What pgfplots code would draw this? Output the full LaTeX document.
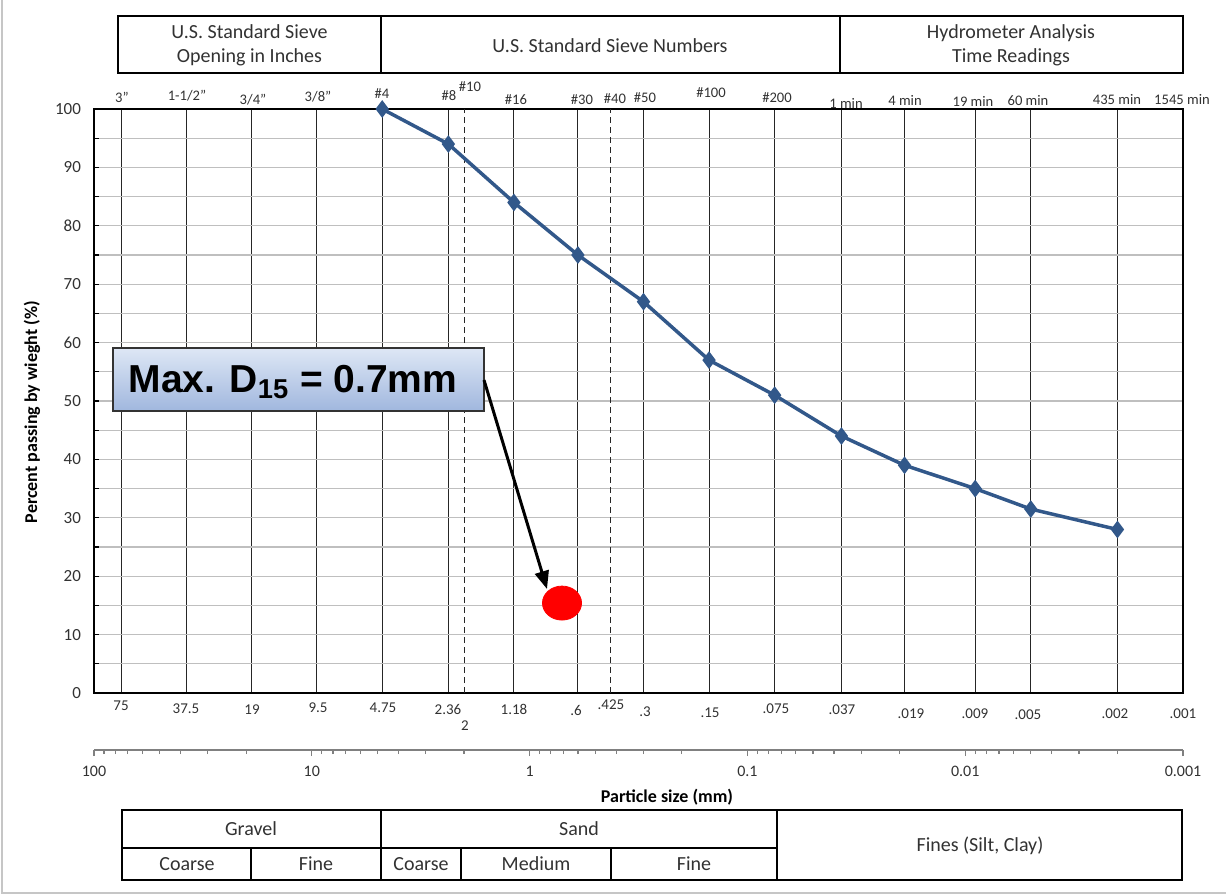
\documentclass[border=0pt]{standalone}
\usepackage{fontspec}
\setmainfont{Carlito}
\newfontfamily\arialfont{Liberation Sans}
\usepackage{pgfplots}
\pgfplotsset{compat=1.18}
\usetikzlibrary{arrows.meta}
\definecolor{series}{RGB}{50,88,138}
\definecolor{txt}{RGB}{50,50,50}
\definecolor{gridgray}{RGB}{191,191,191}
\definecolor{boxtop}{RGB}{222,231,245}
\definecolor{boxbot}{RGB}{160,183,222}
\newcommand{\qt}{\symbol{34}}

\begin{document}
\begin{tikzpicture}
\begin{scope}[x=0.5pt,y=-0.5pt]
\useasboundingbox (0,0) rectangle (1226,895);
\draw[gray!45, line width=1pt] (1.5,0) -- (1.5,893) -- (1226,893);
% top table
\draw[line width=0.8pt] (118,16) rectangle (381,73);
\draw[line width=0.8pt] (381,16) rectangle (840,73);
\draw[line width=0.8pt] (840,16) rectangle (1183,73);
\node[font=\fontsize{10}{12}\selectfont, align=center, text=txt] at (249.5,45) {U.S. Standard Sieve\\Opening in Inches};
\node[font=\fontsize{10}{12}\selectfont, text=txt] at (610,46) {U.S. Standard Sieve Numbers};
\node[font=\fontsize{10}{12}\selectfont, align=center, text=txt] at (1011,45) {Hydrometer Analysis\\Time Readings};
% top labels
\begin{scope}[every node/.style={font=\fontsize{7.3}{8}\selectfont, text=txt}]
\node at (122,97) {3\qt};
\node at (187,96) {1-1/2\qt};
\node at (253,100) {3/4\qt};
\node at (318,97) {3/8\qt};
\node at (382,94) {\#4};
\node at (449,96) {\#8};
\node at (470,87) {\#10};
\node at (516,100) {\#16};
\node at (582,100) {\#30};
\node at (615,99) {\#40};
\node at (645,98) {\#50};
\node at (711,93) {\#100};
\node at (777,98) {\#200};
\node at (846,103) {1 min};
\node at (905,100) {4 min};
\node at (973,101) {19 min};
\node at (1028,101) {60 min};
\node at (1117,100) {435 min};
\node at (1182,100) {1545 min};
\end{scope}
% bottom size labels
\begin{scope}[every node/.style={font=\fontsize{7.5}{8}\selectfont, text=txt}]
\node at (121,706) {75};
\node at (186,709) {37.5};
\node at (252,710) {19};
\node at (318,708) {9.5};
\node at (383,708) {4.75};
\node at (448,709) {2.36};
\node at (465,726) {2};
\node at (514,709) {1.18};
\node at (576,710) {.6};
\node at (611,705) {.425};
\node at (645,712) {.3};
\node at (710,713) {.15};
\node at (776,709) {.075};
\node at (842,710) {.037};
\node at (911,714) {.019};
\node at (975,714) {.009};
\node at (1028,715) {.005};
\node at (1115,714) {.002};
\node at (1183,714) {.001};
\end{scope}
\node[rotate=90, font=\bfseries\fontsize{9}{11}\selectfont, text=black] at (32,412) {Percent passing by wieght (\%)};
\node[font=\bfseries\fontsize{9}{11}\selectfont, text=black] at (667,797) {Particle size (mm)};
% bottom table
\draw[line width=0.8pt] (122,810) rectangle (1182,880);
\draw[line width=0.8pt] (122,848) -- (777,848);
\draw[line width=0.8pt] (381,810) -- (381,880);
\draw[line width=0.8pt] (777,810) -- (777,880);
\draw[line width=0.8pt] (251,848) -- (251,880);
\draw[line width=0.8pt] (461,848) -- (461,880);
\draw[line width=0.8pt] (611,848) -- (611,880);
\begin{scope}[every node/.style={font=\fontsize{10}{12}\selectfont, text=txt}]
\node at (251,829) {Gravel};
\node at (579,829) {Sand};
\node at (980,846) {Fines (Silt, Clay)};
\node at (187,864) {Coarse};
\node at (316,864) {Fine};
\node at (421,864) {Coarse};
\node at (536,864) {Medium};
\node at (694,864) {Fine};
\end{scope}
\end{scope}

\begin{axis}[
  at={(47pt,-346.5pt)}, anchor=south west,
  scale only axis, width=544.5pt, height=292pt,
  xmode=log, x dir=reverse, xmin=0.001, xmax=100,
  ymin=0, ymax=100,
  axis line style={black, line width=0.8pt},
  xtick={75,37.5,19,9.5,4.75,2.36,1.18,0.6,0.3,0.15,0.075,0.037,0.019,0.009,0.005,0.002},
  xticklabels={},
  x tick style={draw=none},
  minor xtick={},
  xmajorgrids,
  x grid style={black!85, line width=0.5pt},
  ytick={0,10,...,100},
  minor ytick={5,15,...,95},
  ytick pos=left,
  ymajorgrids, yminorgrids,
  y grid style={gridgray, line width=0.6pt},
  tick align=inside,
  y tick style={black, line width=0.6pt},
  major tick length=2.5pt, minor tick length=2.5pt,
  yticklabel style={font=\fontsize{8.5}{10}\selectfont, text=txt, xshift=-3pt},
  /pgf/number format/assume math mode=true,
  clip=false,
]
\addplot[black!85, densely dashed, line width=0.5pt] coordinates {(2,0) (2,100)};
\addplot[black!85, densely dashed, line width=0.5pt] coordinates {(0.425,0) (0.425,100)};
\addplot[series, line width=1.75pt, mark=diamond*, mark size=3pt, mark options={solid}] coordinates {
(4.75,100) (2.36,94) (1.18,84) (0.6,75) (0.3,67) (0.15,57) (0.075,51) (0.037,44) (0.019,39) (0.009,35) (0.005,31.5) (0.002,28)};
\addplot[only marks, mark=*, mark size=8.5pt, color=red, mark options={xscale=1.15}] coordinates {(0.71,15.4)};
\end{axis}

\begin{axis}[
  at={(47pt,-375pt)}, anchor=south west,
  scale only axis, width=544.5pt, height=1pt,
  xmode=log, x dir=reverse, xmin=0.001, xmax=100, ymin=0, ymax=1,
  hide y axis, axis x line*=bottom,
  x axis line style={gray, line width=0.6pt},
  xtick={100,10,1,0.1,0.01,0.001}, xticklabels={100,10,1,0.1,0.01,0.001},
  minor xtick={90,80,70,60,50,40,30,20,9,8,7,6,5,4,3,2,0.9,0.8,0.7,0.6,0.5,0.4,0.3,0.2,0.09,0.08,0.07,0.06,0.05,0.04,0.03,0.02,0.009,0.008,0.007,0.006,0.005,0.004,0.003,0.002},
  tick align=outside, major tick length=3pt, minor tick length=2pt,
  x tick style={gray, line width=0.6pt},
  xticklabel style={font=\fontsize{8}{10}\selectfont, text=txt, yshift=-1.5pt},
]
\end{axis}

\begin{scope}[x=0.5pt,y=-0.5pt]
\shade[top color=boxtop, bottom color=boxbot] (113,348) rectangle (484,411);
\draw[black!80, line width=0.8pt] (113,348) rectangle (484,411);
\node[font=\arialfont\bfseries\fontsize{19.5}{22}\selectfont, text=black] at (293,382) {Max. D\textsubscript{15} = 0.7mm};
\draw[black, line width=1.5pt, -{Triangle[length=9pt, width=7pt]}] (484,380) -- (547,589);
\end{scope}
\end{tikzpicture}
\end{document}
